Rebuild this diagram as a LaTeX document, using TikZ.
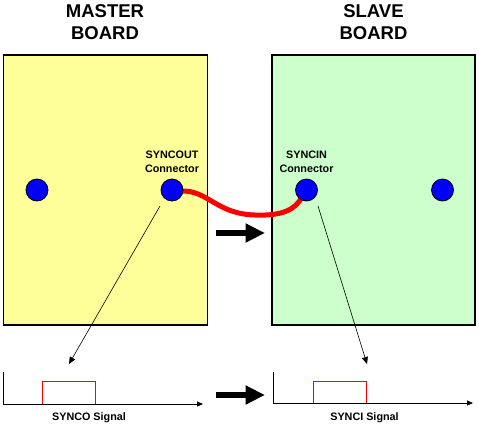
\documentclass[tikz,border=0pt]{standalone}
\usepackage{fontspec}
\setmainfont{Liberation Sans}
\usetikzlibrary{arrows.meta}
\definecolor{masteryellow}{HTML}{FFFF99}
\definecolor{slavegreen}{HTML}{CCFFCC}
\definecolor{dotblue}{HTML}{0000FF}
\definecolor{cablered}{HTML}{FF0000}
\tikzset{
  board/.style={draw=black, line width=1.2pt},
  dot/.style={circle, draw=black, line width=0.8pt, fill=dotblue, minimum size=22pt, inner sep=0pt},
  title/.style={font=\bfseries\fontsize{18.5}{22}\selectfont, align=center},
  conlabel/.style={font=\bfseries\fontsize{10.8}{14}\selectfont, align=center, inner sep=0pt},
  siglabel/.style={font=\bfseries\fontsize{10.8}{13}\selectfont, inner sep=0pt},
  thinarrow/.style={draw=black, line width=0.6pt, -{Triangle[length=7pt,width=6pt]}},
  axis/.style={draw=black, line width=0.9pt, -{Triangle[length=6pt,width=5pt]}},
  pulse/.style={draw=cablered, line width=0.9pt},
  bigarrow/.style={draw=black, line width=6.5pt, -{Triangle[length=19.5pt,width=18pt]}},
  cable/.style={draw=cablered, line width=5pt}
}
\begin{document}
\begin{tikzpicture}[x=1pt,y=-1pt]
\useasboundingbox (0,0) rectangle (479,426);
% titles
\node[title] (mtitle) at (105,22) {MASTER\\BOARD};
\node[title] (stitle) at (373.5,22) {SLAVE\\BOARD};
% boards
\draw[board, fill=masteryellow] (3.5,55) rectangle (207.5,325);
\draw[board, fill=slavegreen] (272,55) rectangle (475,325);
% connector labels
\node[conlabel] (outlbl) at (172,162) {SYNCOUT\\Connector};
\node[conlabel] (inlbl) at (306.5,162) {SYNCIN\\Connector};
% cable
\coordinate (cs) at (181,191);
\coordinate (cm) at (255,215);
\coordinate (ce) at (302,197);
\draw[cable] (cs) .. controls (208,190) and (216,214) .. (cm) .. controls (282,216) and (295,210) .. (ce);
% dots
\node[dot] (m1) at (37,190) {};
\node[dot] (mout) at (172,190) {};
\node[dot] (sin) at (306.5,190) {};
\node[dot] (s2) at (442.5,190) {};
% big arrows
\coordinate (ba1s) at (216,233);
\coordinate (ba1e) at (265,233);
\draw[bigarrow] (ba1s) -- (ba1e);
\coordinate (ba2s) at (216,395);
\coordinate (ba2e) at (265,395);
\draw[bigarrow] (ba2s) -- (ba2e);
% signal plots
\coordinate (lo) at (3.5,404);
\coordinate (ltop) at (3.5,372);
\coordinate (lend) at (203,404);
\draw[axis] (ltop) -- (lo) -- (lend);
\draw[pulse] (42,404) -- (42,381) -- (95.5,381) -- (95.5,404);
\coordinate (ro) at (273.5,403);
\coordinate (rtop) at (273.5,372);
\coordinate (rend) at (473,403);
\draw[axis] (rtop) -- (ro) -- (rend);
\draw[pulse] (313.5,403) -- (313.5,381) -- (366.5,381) -- (366.5,403);
\node[siglabel] (sigo) at (89,418) {SYNCO Signal};
\node[siglabel] (sigi) at (364.5,418) {SYNCI Signal};
% thin arrows
\coordinate (ta1s) at (160,206);
\coordinate (ta1e) at (69,364);
\draw[thinarrow] (ta1s) -- (ta1e);
\coordinate (ta2s) at (318,206);
\coordinate (ta2e) at (367,364);
\draw[thinarrow] (ta2s) -- (ta2e);
\end{tikzpicture}
\end{document}
